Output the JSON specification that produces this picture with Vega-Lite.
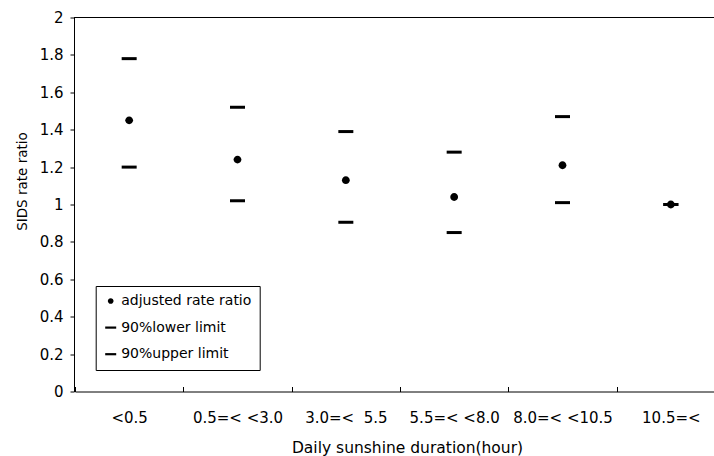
{
  "$schema": "https://vega.github.io/schema/vega-lite/v6.json",
  "width": 640,
  "height": 374,
  "autosize": {"type": "none"},
  "padding": {"left": 74, "top": 17.5, "right": 0, "bottom": 64.5},
  "background": "white",
  "config": {
    "view": {"stroke": null},
    "font": "DejaVu Sans",
    "axis": {
      "grid": false,
      "domainColor": "black",
      "tickColor": "black",
      "labelColor": "black",
      "titleColor": "black",
      "titleFontWeight": "normal",
      "domainWidth": 1,
      "tickWidth": 1
    },
    "axisY": {
      "values": [0, 0.2, 0.4, 0.6, 0.8, 1, 1.2, 1.4, 1.6, 1.8, 2],
      "labelOverlap": false,
      "labelFlush": false,
      "tickSize": 4,
      "labelPadding": 7,
      "labelFontSize": 15,
      "titleFontSize": 13.5,
      "titleX": -52,
      "titleY": 163.5,
      "titleAngle": -90,
      "titleAlign": "center",
      "titleBaseline": "middle"
    }
  },
  "data": {
    "values": [
      {"duration": "<0.5", "series": "adjusted rate ratio", "value": 1.45},
      {"duration": "<0.5", "series": "90%lower limit", "value": 1.20},
      {"duration": "<0.5", "series": "90%upper limit", "value": 1.78},
      {"duration": "0.5=< <3.0", "series": "adjusted rate ratio", "value": 1.24},
      {"duration": "0.5=< <3.0", "series": "90%lower limit", "value": 1.02},
      {"duration": "0.5=< <3.0", "series": "90%upper limit", "value": 1.52},
      {"duration": "3.0=<\u00a0\u00a05.5", "series": "adjusted rate ratio", "value": 1.13},
      {"duration": "3.0=<\u00a0\u00a05.5", "series": "90%lower limit", "value": 0.905},
      {"duration": "3.0=<\u00a0\u00a05.5", "series": "90%upper limit", "value": 1.39},
      {"duration": "5.5=< <8.0", "series": "adjusted rate ratio", "value": 1.04},
      {"duration": "5.5=< <8.0", "series": "90%lower limit", "value": 0.85},
      {"duration": "5.5=< <8.0", "series": "90%upper limit", "value": 1.28},
      {"duration": "8.0=< <10.5", "series": "adjusted rate ratio", "value": 1.21},
      {"duration": "8.0=< <10.5", "series": "90%lower limit", "value": 1.01},
      {"duration": "8.0=< <10.5", "series": "90%upper limit", "value": 1.47},
      {"duration": "10.5=<", "series": "adjusted rate ratio", "value": 1.0},
      {"duration": "10.5=<", "series": "90%lower limit", "value": 1.0},
      {"duration": "10.5=<", "series": "90%upper limit", "value": 1.0}
    ]
  },
  "layer": [
    {
      "mark": {"type": "point", "filled": true, "opacity": 1, "color": "black", "size": 225},
      "encoding": {
        "x": {
          "field": "duration",
          "type": "nominal",
          "scale": {
            "type": "band",
            "domain": ["<0.5", "0.5=< <3.0", "3.0=<\u00a0\u00a05.5", "5.5=< <8.0", "8.0=< <10.5", "10.5=<"],
            "range": [1, 651],
            "paddingInner": 0,
            "paddingOuter": 0
          },
          "axis": {
            "title": "Daily sunshine duration(hour)",
            "labelAngle": 0,
            "tickBand": "extent",
            "tickSize": -5,
            "labelPadding": 35.5,
            "labelBaseline": "alphabetic",
            "labelFontSize": 15,
            "labelFlush": false,
            "labelOverlap": false,
            "labelLimit": 300,
            "titleFontSize": 15.5,
            "titleX": 333,
            "titleY": 61,
            "titleAlign": "center",
            "titleBaseline": "alphabetic"
          }
        },
        "y": {
          "field": "value",
          "type": "quantitative",
          "scale": {"domain": [0, 2], "nice": false, "zero": true},
          "axis": {
            "title": "SIDS rate ratio",
            "values": [0, 0.2, 0.4, 0.6, 0.8, 1, 1.2, 1.4, 1.6, 1.8, 2],
            "format": "~g",
            "labelOverlap": false
          }
        },
        "shape": {
          "field": "series",
          "type": "nominal",
          "scale": {
            "domain": ["adjusted rate ratio", "90%lower limit", "90%upper limit"],
            "range": [
              "M-0.52,0A0.52,0.52,0,1,0,0.52,0A0.52,0.52,0,1,0,-0.52,0Z",
              "M-1,-0.2H1V0.2H-1Z",
              "M-1,-0.2H1V0.2H-1Z"
            ]
          },
          "legend": {
            "title": null,
            "orient": "none",
            "legendX": 21.7,
            "legendY": 268.5,
            "strokeColor": "black",
            "fillColor": "white",
            "padding": 8,
            "rowPadding": 12.6,
            "symbolSize": 121,
            "symbolFillColor": "black",
            "symbolStrokeColor": "black",
            "symbolStrokeWidth": 0,
            "symbolOpacity": 1,
            "labelFontSize": 14,
            "labelColor": "black",
            "labelOffset": 3.5,
            "labelLimit": 300
          }
        }
      }
    },
    {
      "mark": {"type": "rule", "color": "black", "strokeWidth": 1},
      "encoding": {
        "y": {
          "datum": 2,
          "type": "quantitative",
          "axis": {
            "title": "SIDS rate ratio",
            "values": [0, 0.2, 0.4, 0.6, 0.8, 1, 1.2, 1.4, 1.6, 1.8, 2],
            "format": "~g",
            "labelOverlap": false
          }
        }
      }
    }
  ]
}
